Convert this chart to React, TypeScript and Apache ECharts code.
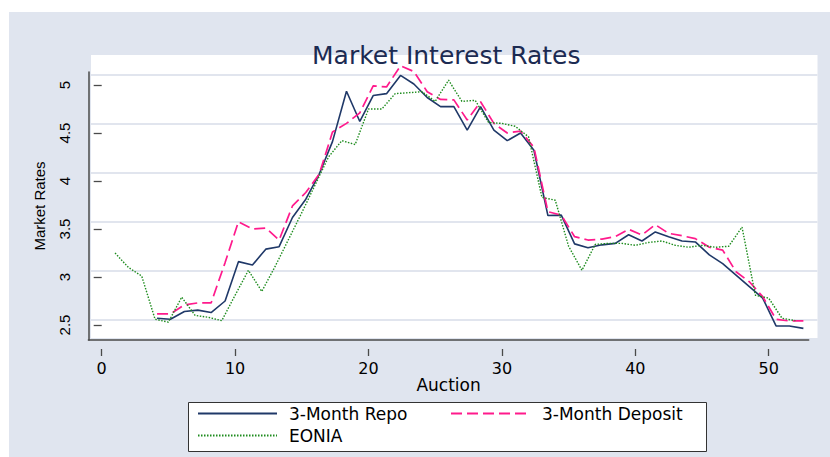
import React, { useEffect, useRef } from "react";
import * as echarts from "echarts";

// EONIA: one value per auction
const eoniaAuction = [1, 2, 3, 4, 5, 6, 7, 8, 9, 10, 11, 12, 13, 14, 15, 16, 17, 18, 19, 20, 21, 22, 23, 24, 25, 26, 27, 28, 29, 30, 31, 32, 33, 34, 35, 36, 37, 38, 39, 40, 41, 42, 43, 44, 45, 46, 47, 48, 49, 50, 51, 52];
const eonia = [3.25, 3.1, 3.01, 2.56, 2.53, 2.79, 2.6, 2.58, 2.545, 2.81, 3.07, 2.85, 3.11, 3.39, 3.67, 3.96, 4.25, 4.42, 4.38, 4.75, 4.75, 4.91, 4.92, 4.93, 4.83, 5.05, 4.83, 4.84, 4.61, 4.6, 4.57, 4.46, 3.83, 3.8, 3.32, 3.07, 3.34, 3.35, 3.35, 3.33, 3.36, 3.375, 3.33, 3.31, 3.33, 3.31, 3.32, 3.52, 2.81, 2.78, 2.57, 2.545];

// 3-Month Repo and 3-Month Deposit share their auction positions
const repoDepositAuction = [4.15, 5.15, 6.2, 7.2, 8.2, 9.25, 10.25, 11.3, 12.3, 13.3, 14.3, 15.3, 16.3, 17.3, 18.35, 19.35, 20.35, 21.35, 22.4, 23.4, 24.4, 25.4, 26.4, 27.4, 28.4, 29.4, 30.4, 31.4, 32.4, 33.45, 34.45, 35.45, 36.45, 37.5, 38.5, 39.5, 40.5, 41.5, 42.5, 43.5, 44.5, 45.55, 46.55, 47.55, 48.55, 49.55, 50.55, 51.55, 52.6];
const repo = [2.57, 2.56, 2.64, 2.655, 2.63, 2.75, 3.16, 3.125, 3.29, 3.316, 3.62, 3.81, 4.07, 4.41, 4.935, 4.62, 4.89, 4.91, 5.1, 5.01, 4.87, 4.775, 4.775, 4.53, 4.775, 4.53, 4.42, 4.5, 4.32, 3.64, 3.645, 3.345, 3.305, 3.335, 3.35, 3.44, 3.375, 3.47, 3.42, 3.375, 3.365, 3.23, 3.14, 3.02, 2.9, 2.78, 2.49, 2.49, 2.465];
const deposit = [2.615, 2.615, 2.71, 2.73, 2.73, 3.15, 3.575, 3.5, 3.51, 3.385, 3.74, 3.88, 4.07, 4.51, 4.6, 4.71, 4.99, 4.98, 5.2, 5.14, 4.93, 4.85, 4.845, 4.635, 4.826, 4.6, 4.5, 4.52, 4.35, 3.68, 3.645, 3.42, 3.385, 3.395, 3.42, 3.497, 3.438, 3.545, 3.455, 3.43, 3.4, 3.31, 3.28, 3.055, 2.95, 2.795, 2.56, 2.542, 2.542];

const seriesNames = ["3-Month Repo", "3-Month Deposit", "EONIA"];
const titleText = "Market Interest Rates";
const xTitle = "Auction";
const yTitle = "Market Rates";

export default function App() {
  const ref = useRef<HTMLDivElement>(null);

  useEffect(() => {
    if (!ref.current) return;
    const chart = echarts.init(ref.current, null, { renderer: "svg" });
    const sans = "DejaVu Sans";
    const arial = "Liberation Sans";
    const axisColor = "#4a4a4a";

    // plot-region scale: 0..50 ticks sit at 101.7..768.7 px, 2.5..5 at 325..85 px
    const pxPerX = 13.34;
    const pxPerY = 96;
    const plotLeft = 91;
    const plotRight = 817.5;
    const plotTop = 55;
    const plotBottom = 338;
    const xMin = (plotLeft - 101.7) / pxPerX;
    const xMax = (plotRight - 101.7) / pxPerX;
    const yMax = 5 + (85 - plotTop) / pxPerY;
    const yMin = 2.5 - (plotBottom - 325) / pxPerY;

    const hiddenAxis = (gridIndex: number) => ({
      gridIndex,
      type: "value" as const,
      min: 0,
      max: 1,
      show: false,
    });

    chart.setOption({
      animation: false,
      backgroundColor: "#ffffff",
      title: {
        text: titleText,
        left: 312,
        top: 43,
        padding: 0,
        textStyle: { fontFamily: sans, fontSize: 25, fontWeight: "normal", color: "#1c2b52" },
      },
      graphic: [
        {
          type: "rect",
          z: -10,
          silent: true,
          shape: { x: 9, y: 12, width: 821, height: 445 },
          style: { fill: "#e0e5ef" },
        },
        {
          type: "rect",
          z: -9,
          silent: true,
          shape: { x: 188.5, y: 402.5, width: 518, height: 49 },
          style: { fill: "#ffffff", stroke: "#333333", lineWidth: 1 },
        },
      ],
      legend: [
        { data: [seriesNames[0]], left: 197, top: 405 },
        { data: [seriesNames[1]], left: 450, top: 405 },
        { data: [seriesNames[2]], left: 197, top: 427 },
      ].map((l) => ({
        ...l,
        padding: 0,
        itemWidth: 79,
        itemHeight: 14,
        selectedMode: false,
        itemStyle: { opacity: 0 },
        textStyle: { fontFamily: sans, fontSize: 17, color: "#000", padding: [0, 0, 0, 7] },
      })),
      grid: [
        // tick grid: spans ticks 0..50 and 2.5..5
        { left: 101.7, right: 61.3, top: 85, bottom: 132 },
        // axis-line grid
        { left: 88.4, right: 21.3, top: 72, bottom: 117 },
        // white plot region (holds the data)
        { left: plotLeft, right: 830 - plotRight, top: plotTop, bottom: 457 - plotBottom, show: true, backgroundColor: "#ffffff", borderWidth: 0, z: -1 },
        // grid lines
        { left: plotLeft, right: 830 - plotRight, top: 74.3, bottom: 137.7 },
      ],
      xAxis: [
        {
          gridIndex: 0,
          type: "value",
          min: 0,
          max: 50,
          interval: 10,
          offset: 24,
          axisLine: { show: false },
          axisTick: { show: true, length: 7, lineStyle: { color: axisColor, width: 1.3 } },
          axisLabel: { fontFamily: sans, fontSize: 16, color: "#000", margin: 11 },
          splitLine: { show: false },
        },
        {
          gridIndex: 1,
          type: "value",
          min: 0,
          max: 1,
          offset: 9,
          axisLine: { show: true, lineStyle: { color: axisColor, width: 1.5 } },
          axisTick: { show: false },
          axisLabel: { show: false },
          splitLine: { show: false },
          name: xTitle,
          nameLocation: "middle",
          nameGap: 27,
          nameTextStyle: { fontFamily: sans, fontSize: 17, color: "#000" },
        },
        { gridIndex: 2, type: "value", min: xMin, max: xMax, show: false },
        hiddenAxis(3),
      ],
      yAxis: [
        {
          gridIndex: 0,
          type: "value",
          min: 2.5,
          max: 5,
          interval: 0.5,
          offset: 13.2,
          axisLine: { show: false },
          axisTick: { show: true, length: 8, lineStyle: { color: axisColor, width: 1.3 } },
          axisLabel: { rotate: 90, fontFamily: arial, fontSize: 15, color: "#000", margin: 17 },
          splitLine: { show: false },
        },
        {
          gridIndex: 1,
          type: "value",
          min: 0,
          max: 1,
          axisLine: { show: true, lineStyle: { color: axisColor, width: 1.5 } },
          axisTick: { show: false },
          axisLabel: { show: false },
          splitLine: { show: false },
          name: yTitle,
          nameLocation: "middle",
          nameRotate: 90,
          nameGap: 41,
          nameTextStyle: { fontFamily: arial, fontSize: 15, color: "#000" },
        },
        { gridIndex: 2, type: "value", min: yMin, max: yMax, show: false },
        {
          gridIndex: 3,
          type: "value",
          min: 0,
          max: 5,
          interval: 1,
          axisLine: { show: false },
          axisTick: { show: false },
          axisLabel: { show: false },
          splitLine: { show: true, lineStyle: { color: "#e1e5ee", width: 2 } },
        },
      ],
      series: [
        {
          name: seriesNames[0],
          type: "line",
          xAxisIndex: 2,
          yAxisIndex: 2,
          data: repoDepositAuction.map((x, i) => [x, repo[i]]),
          symbol: "none",
          clip: false,
          z: 3,
          itemStyle: { color: "#1f3868" },
          lineStyle: { color: "#1f3868", width: 1.6 },
        },
        {
          name: seriesNames[1],
          type: "line",
          xAxisIndex: 2,
          yAxisIndex: 2,
          data: repoDepositAuction.map((x, i) => [x, deposit[i]]),
          symbol: "none",
          clip: false,
          z: 4,
          itemStyle: { color: "#ff1a8c" },
          lineStyle: { color: "#ff1a8c", width: 1.7, type: [11, 5] },
        },
        {
          name: seriesNames[2],
          type: "line",
          xAxisIndex: 2,
          yAxisIndex: 2,
          data: eoniaAuction.map((x, i) => [x, eonia[i]]),
          symbol: "none",
          clip: false,
          z: 5,
          itemStyle: { color: "#1e8c1e" },
          lineStyle: { color: "#1e8c1e", width: 1.4, type: [1.5, 1.5] },
        },
      ],
    });

    return () => chart.dispose();
  }, []);

  return (
    <div
      ref={ref}
      style={{ position: "fixed", left: 0, top: 0, width: 830, height: 457 }}
    />
  );
}
